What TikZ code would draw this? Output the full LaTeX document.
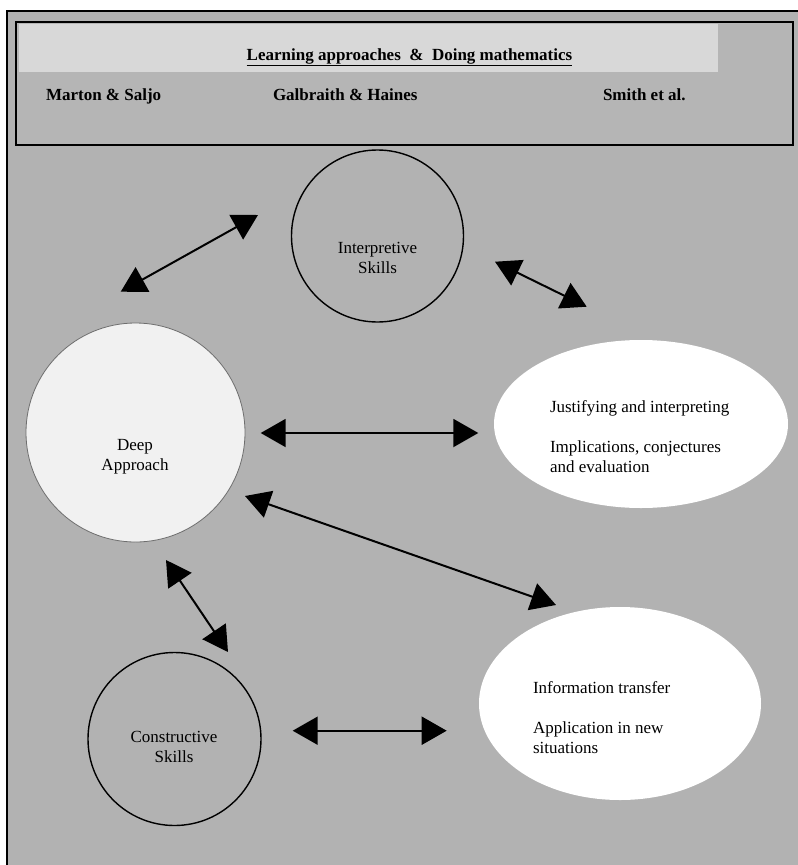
\documentclass[tikz,border=0pt]{standalone}
\usepackage{fontspec}
\setmainfont{Liberation Serif}
\usetikzlibrary{arrows.meta,shapes.geometric}
\definecolor{bg}{HTML}{B2B2B2}
\definecolor{hdr}{HTML}{B5B5B5}
\definecolor{texband}{HTML}{D8D8D8}
\definecolor{deepfill}{HTML}{F1F1F1}
\definecolor{deepline}{HTML}{6E6E6E}
\begin{document}
\begin{tikzpicture}[x=1pt,y=-1pt,
  every node/.style={inner sep=0pt, outer sep=0pt},
  ctxt/.style={font=\fontsize{17}{20}\selectfont, align=center, anchor=base},
  ltxt/.style={font=\fontsize{17}{20}\selectfont, align=left, anchor=base west},
  htxt/.style={font=\fontsize{17}{20}\selectfont\bfseries, anchor=base west},
  skill/.style={circle, draw=black, line width=1.4pt, fill=bg, minimum size=#1},
  oval/.style={ellipse, fill=white, draw=none},
  link/.style={line width=2pt, {Triangle[length=25pt,width=28pt]}-{Triangle[length=25pt,width=28pt]}},
]
\useasboundingbox (0,0) rectangle (798,865);
% page frame
\fill[bg] (7,11) rectangle (798,865);
\draw[line width=1.2pt] (7,865) -- (7,11) -- (798,11);
% header
\node[draw=black, line width=2.5pt, fill=hdr, minimum width=777pt, minimum height=123pt] (header) at (404.5,83.5) {};
\fill[texband] (19,24) rectangle (718,72);
\node[font=\fontsize{17}{20}\selectfont\bfseries, anchor=base] (title) at (409.5,60) {\underline{Learning approaches~~\&~~Doing mathematics}};
\node[htxt] (marton) at (46,100) {Marton \& Saljo};
\node[htxt] (galb) at (273,100) {Galbraith \& Haines};
\node[htxt] (smith) at (603,100) {Smith et al.};
% shapes
\node[skill=172pt] (interp) at (377.5,236) {};
\node[ctxt] (interpT) at (377.5,273) {Interpretive\\Skills};
\node[circle, draw=deepline, line width=0.8pt, fill=deepfill, minimum size=219pt] (deep) at (135.5,432.5) {};
\node[ctxt] (deepT) at (135,470) {Deep\\Approach};
\node[skill=173pt] (constr) at (174.5,739) {};
\node[ctxt] (constrT) at (174,762) {Constructive\\Skills};
\node[oval, minimum width=294pt, minimum height=168pt] (just) at (641,424) {};
\node[ltxt] (justT) at (550,472) {Justifying and interpreting\\[20pt]Implications, conjectures\\and evaluation};
\node[oval, minimum width=282pt, minimum height=193pt] (info) at (620,703.5) {};
\node[ltxt] (infoT) at (533,753) {Information transfer\\[20pt]Application in new\\situations};
% arrow end points
\coordinate (a1s) at (120.7,291.7); \coordinate (a1e) at (258,215);
\coordinate (a2s) at (495,261.7);   \coordinate (a2e) at (586.7,306.7);
\coordinate (a3s) at (260.7,433);   \coordinate (a3e) at (478.3,433);
\coordinate (a4s) at (245,496);     \coordinate (a4e) at (556,605);
\coordinate (a5s) at (166,560);     \coordinate (a5e) at (228,652);
\coordinate (a6s) at (292.7,730.7); \coordinate (a6e) at (446.7,730.7);
\draw[link] (a1s) -- (a1e);
\draw[link] (a2s) -- (a2e);
\draw[link] (a3s) -- (a3e);
\draw[link] (a4s) -- (a4e);
\draw[link] (a5s) -- (a5e);
\draw[link] (a6s) -- (a6e);
\end{tikzpicture}
\end{document}
